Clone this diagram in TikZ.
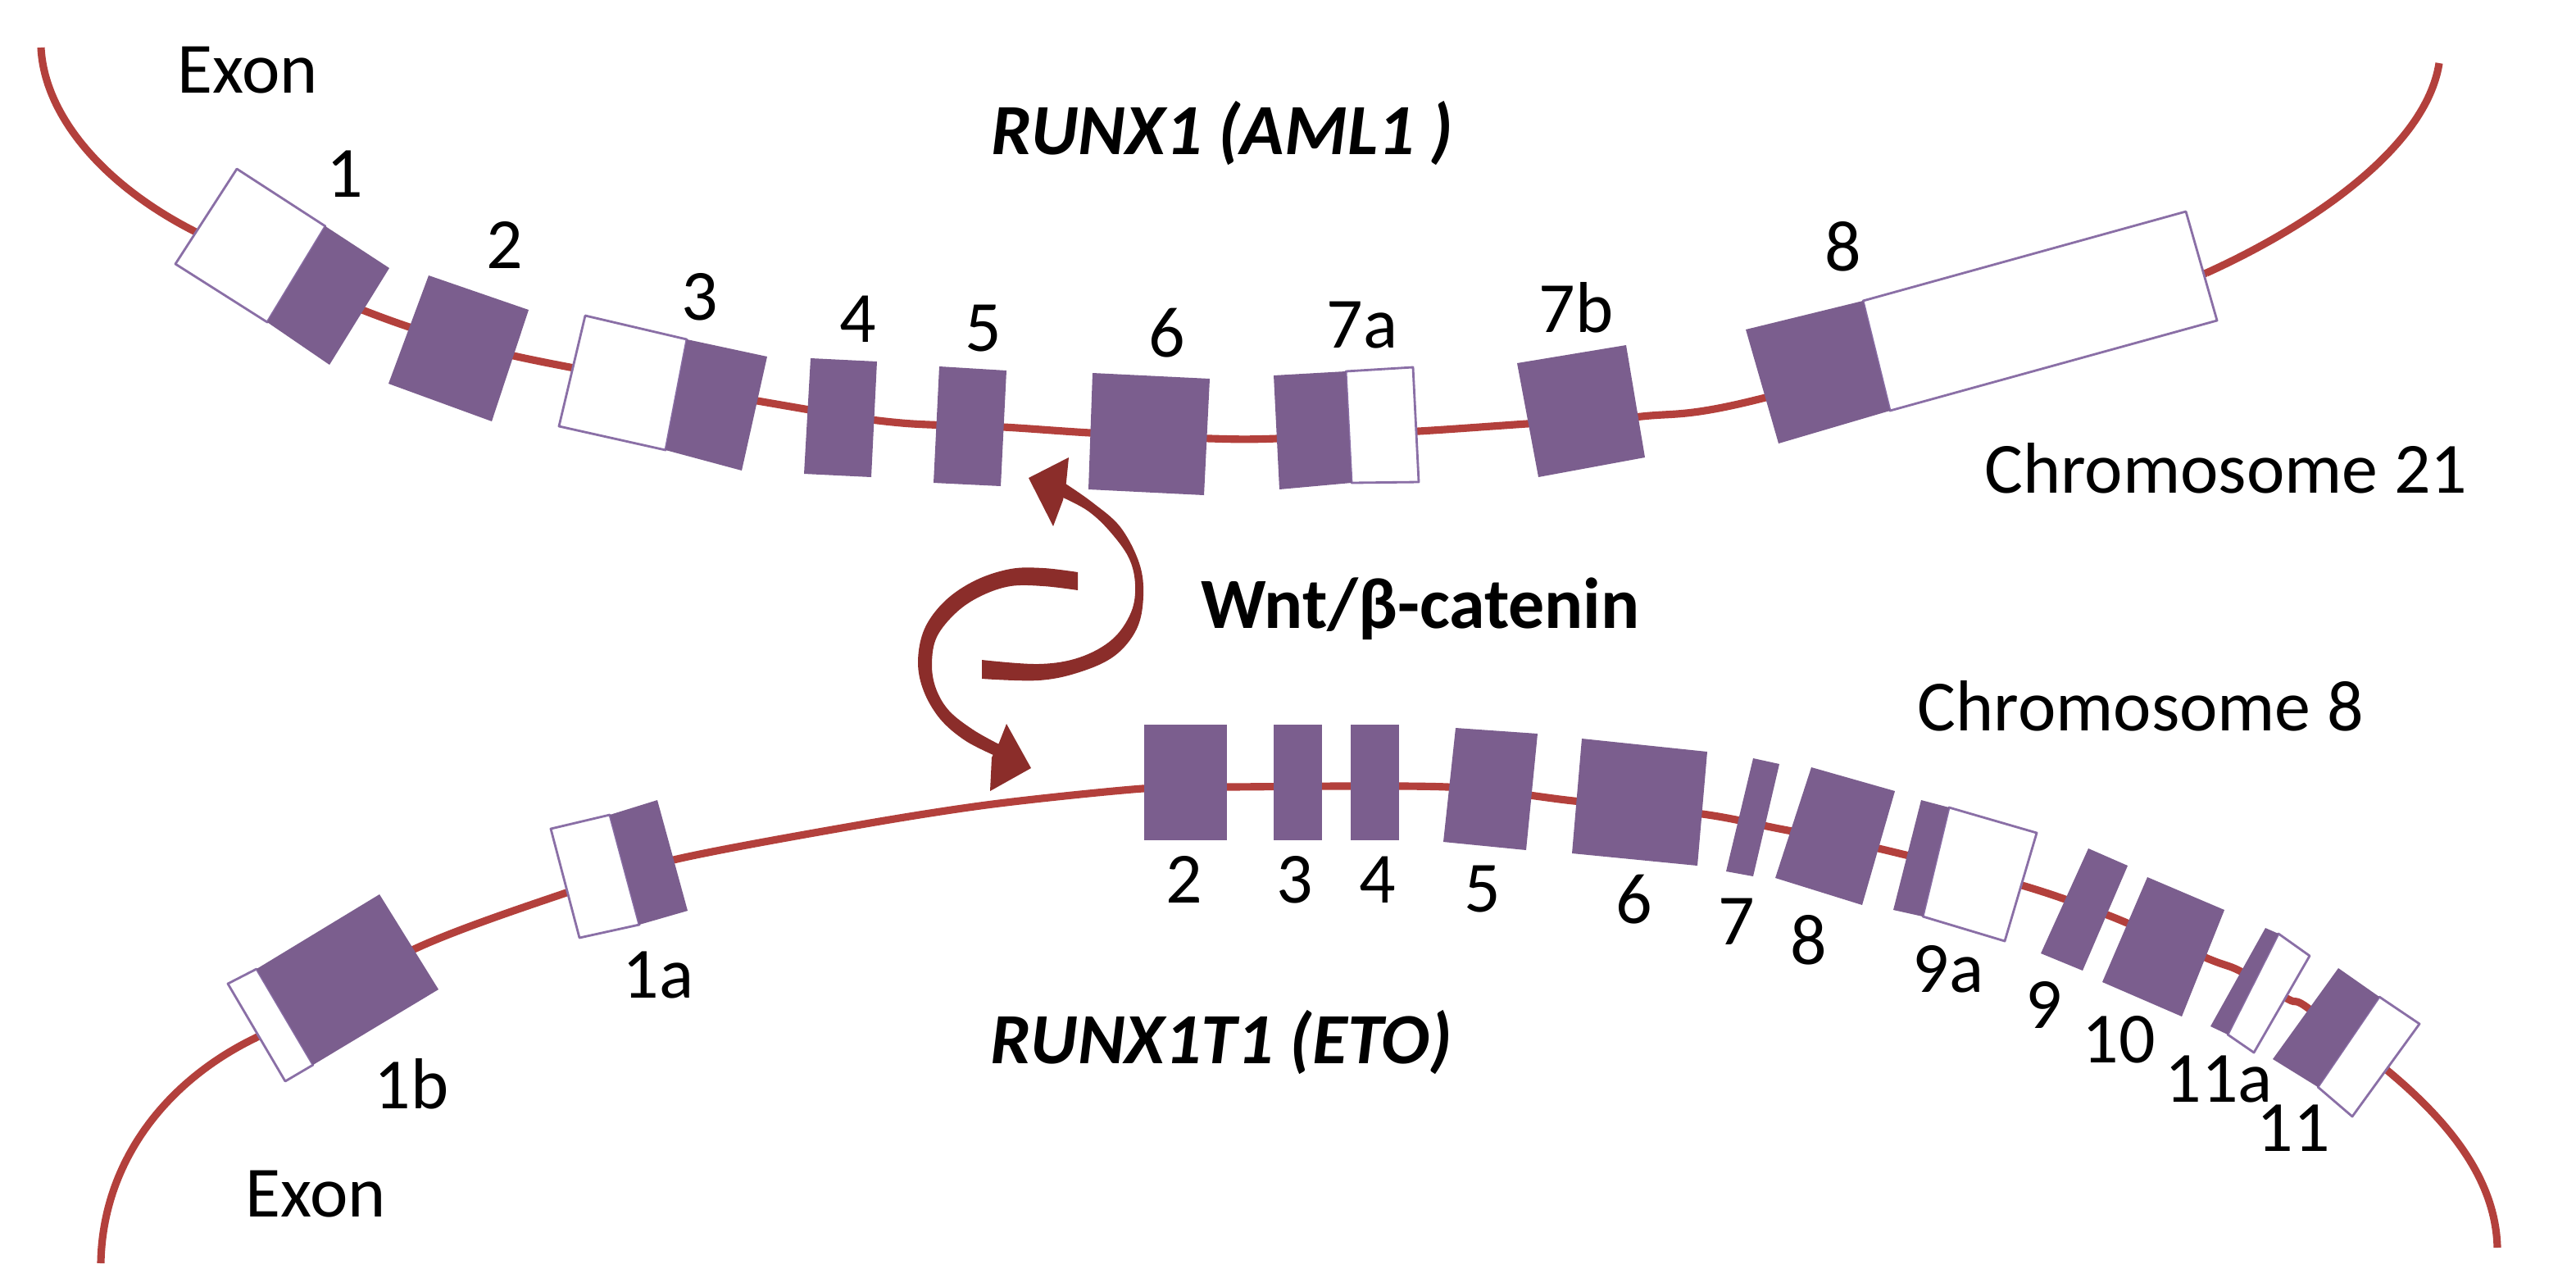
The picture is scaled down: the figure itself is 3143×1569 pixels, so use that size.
\documentclass[tikz,border=0pt]{standalone}
\usepackage{fontspec}
\setmainfont{Carlito}
\usetikzlibrary{arrows.meta}
\definecolor{exonpurple}{HTML}{7B5E8E}
\definecolor{exonedge}{HTML}{8A6FA6}
\definecolor{chromred}{HTML}{B3403C}
\definecolor{arrowred}{HTML}{8B2D2A}
\begin{document}
\begin{tikzpicture}[x=0.01cm, y=-0.01cm,
  font=\fontsize{25}{30}\selectfont,
  lbl/.style={anchor=base, inner sep=0pt},
  exon/.style={fill=exonpurple},
  utr/.style={fill=white, draw=exonedge, line width=0.8pt, line join=round},
  chrom/.style={draw=chromred, line width=2.6pt},
  head/.style={fill=arrowred}]
\useasboundingbox (0,0) rectangle (3143,1569);

% ---------- chromosome lines ----------
% chromosome 21 (top)
\draw[chrom] (50,58) .. controls (54,140) and (125,225) .. (237,282)
  plot[smooth, tension=0.5] coordinates {
  (237,282) (447,380) (631,435) (982,499) (1100,516) (1224,521) (1330,528)
  (1477,535) (1558,535) (1731,526) (1863,517) (2003,508) (2154,485) (2692,333)}
  (2692,333) .. controls (2820,275) and (2960,180) .. (2976,77);
% chromosome 8 (bottom)
\draw[chrom] (123,1541) .. controls (125,1420) and (200,1320) .. (312,1266)
  plot[smooth, tension=0.5] coordinates {
  (312,1266) (505,1158) (691,1089) (826,1048) (1050,1006) (1211,981)
  (1394,962) (1499,960) (1766,960) (1920,977) (2077,993) (2171,1011)
  (2292,1035) (2467,1080) (2576,1118) (2693,1169) (2732,1184) (2792,1219)
  (2815,1229) (2913,1306)}
  (2913,1306) .. controls (2990,1370) and (3045,1440) .. (3047,1522);

% ---------- RUNX1 exons (top) ----------
\filldraw[utr] (289,206) -- (397,276) -- (326,393) -- (214,322) -- cycle;
\fill[exon] (397,276) -- (475,327) -- (402,445) -- (326,393) -- cycle;
\fill[exon] (523,336) -- (645,378) -- (600,514) -- (474,468) -- cycle;
\filldraw[utr] (714,385) -- (838,414) -- (812,549) -- (682,520) -- cycle;
\fill[exon] (838,414) -- (936,435) -- (905,574) -- (812,549) -- cycle;
\fill[exon] (989,437) -- (1070,441) -- (1063,582) -- (981,578) -- cycle;
\fill[exon] (1146,447) -- (1228,452) -- (1221,593) -- (1139,589) -- cycle;
\fill[exon] (1333,455) -- (1476,462) -- (1469,604) -- (1328,597) -- cycle;
\filldraw[utr] (1642,453) -- (1724,448) -- (1731,588) -- (1649,589) -- cycle;
\fill[exon] (1554,458) -- (1642,453) -- (1649,589) -- (1561,597) -- cycle;
\fill[exon] (1851,443) -- (1984,421) -- (2007,558) -- (1877,582) -- cycle;
\filldraw[utr] (2273,367) -- (2667,258) -- (2705,391) -- (2306,501) -- cycle;
\fill[exon] (2130,402) -- (2273,367) -- (2306,501) -- (2170,541) -- cycle;

% ---------- RUNX1T1 exons (bottom) ----------
\filldraw[utr] (278,1200) -- (313,1182) -- (382,1299) -- (348,1319) -- cycle;
\fill[exon] (313,1182) -- (463,1091) -- (535,1207) -- (382,1299) -- cycle;
\filldraw[utr] (672,1011) -- (744,994) -- (780,1128) -- (707,1144) -- cycle;
\fill[exon] (744,994) -- (802,976) -- (839,1111) -- (780,1128) -- cycle;
\fill[exon] (1396,884) rectangle (1497,1025);
\fill[exon] (1554,884) rectangle (1613,1025);
\fill[exon] (1648,884) rectangle (1707,1025);
\fill[exon] (1776,888) -- (1876,895) -- (1862,1037) -- (1761,1027) -- cycle;
\fill[exon] (1930,901) -- (2083,917) -- (2071,1056) -- (1918,1041) -- cycle;
\fill[exon] (2139,925) -- (2171,932) -- (2139,1069) -- (2106,1063) -- cycle;
\fill[exon] (2210,936) -- (2312,965) -- (2272,1104) -- (2166,1071) -- cycle;
\filldraw[utr] (2378,985) -- (2485,1016) -- (2446,1148) -- (2346,1118) -- cycle;
\fill[exon] (2344,976) -- (2378,985) -- (2346,1118) -- (2310,1110) -- cycle;
\fill[exon] (2548,1035) -- (2596,1056) -- (2541,1184) -- (2490,1163) -- cycle;
\fill[exon] (2620,1070) -- (2714,1110) -- (2662,1240) -- (2565,1198) -- cycle;
\filldraw[utr] (2780,1139) -- (2818,1166) -- (2750,1284) -- (2718,1262) -- cycle;
\fill[exon] (2764,1132) -- (2780,1139) -- (2718,1262) -- (2697,1252) -- cycle;
\filldraw[utr] (2903,1216) -- (2952,1249) -- (2870,1362) -- (2828,1326) -- cycle;
\fill[exon] (2853,1181) -- (2903,1216) -- (2828,1326) -- (2773,1292) -- cycle;

% ---------- curved arrows (tapered shafts) ----------
\fill[head] plot[smooth, tension=0.6] coordinates {
  (1198,828) (1267,830) (1317,820) (1360,800) (1387,767) (1395,727)
  (1390,687) (1367,643) (1333,613) (1300,590)}
  -- plot[smooth, tension=0.6] coordinates {
  (1297,607) (1327,623) (1353,647) (1377,680) (1385,713) (1380,747)
  (1357,780) (1317,802) (1267,810) (1198,805)} -- cycle;
\fill[head] (1304,558) -- (1255,583) -- (1285,642) -- (1297,610) -- (1301,588) -- cycle;
\fill[head] plot[smooth, tension=0.6] coordinates {
  (1315,698) (1273,693) (1233,694) (1190,708) (1153,733) (1128,767)
  (1120,807) (1127,843) (1147,877) (1177,903) (1212,921)}
  -- plot[smooth, tension=0.6] coordinates {
  (1219,908) (1187,890) (1158,867) (1142,840) (1137,810) (1143,777)
  (1167,747) (1197,727) (1233,715) (1273,715) (1315,720)} -- cycle;
\fill[head] (1228,883) -- (1258,937) -- (1208,965) -- (1210,924) -- (1219,906) -- cycle;

% ---------- labels ----------
\node[lbl] (exontop) at (302,113) {Exon};
\node[lbl, font=\fontsize{25}{30}\selectfont\bfseries\itshape] (runx1) at (1491,188) {RUNX1 (AML1 )};
\node[lbl] (chr21) at (2716,601) {Chromosome 21};
\node[lbl, font=\fontsize{25}{30}\selectfont\bfseries] (wnt) at (1733,766) {Wnt/β-catenin};
\node[lbl] (chr8) at (2612,891) {Chromosome 8};
\node[lbl, font=\fontsize{25}{30}\selectfont\bfseries\itshape] (runx1t1) at (1490,1297) {RUNX1T1 (ETO)};
\node[lbl] (exonbot) at (385,1484) {Exon};

\node[lbl] (a1) at (421,240) {1};
\node[lbl] (a2) at (616,327) {2};
\node[lbl] (a3) at (854,390) {3};
\node[lbl] (a4) at (1047,417) {4};
\node[lbl] (a5) at (1200,428) {5};
\node[lbl] (a6) at (1424,435) {6};
\node[lbl] (a7a) at (1662,424) {7a};
\node[lbl] (a7b) at (1923,405) {7b};
\node[lbl] (a8) at (2249,330) {8};

\node[lbl] (e1b) at (502,1352) {1b};
\node[lbl] (e1a) at (803,1217) {1a};
\node[lbl] (e2) at (1445,1101) {2};
\node[lbl] (e3) at (1580,1101) {3};
\node[lbl] (e4) at (1681,1101) {4};
\node[lbl] (e5) at (1809,1112) {5};
\node[lbl] (e6) at (1994,1126) {6};
\node[lbl] (e7) at (2119,1152) {7};
\node[lbl] (e8) at (2207,1176) {8};
\node[lbl] (e9a) at (2377,1210) {9a};
\node[lbl] (e9) at (2494,1254) {9};
\node[lbl] (e10) at (2585,1296) {10};
\node[lbl] (e11a) at (2707,1344) {11a};
\node[lbl] (e11) at (2798,1404) {11};
\end{tikzpicture}
\end{document}
